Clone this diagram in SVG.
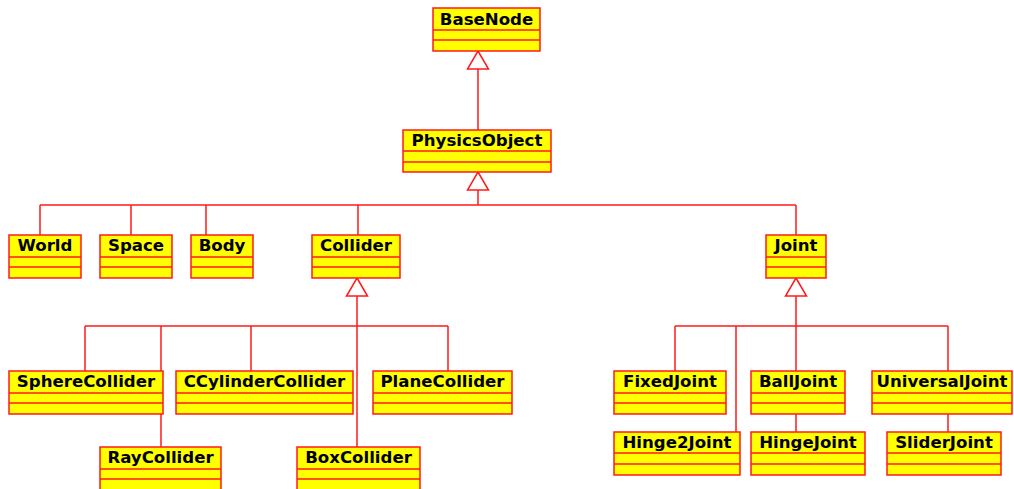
<svg xmlns="http://www.w3.org/2000/svg" width="1014" height="489" viewBox="0 0 1014 489">
<style>
.box{fill:#ffff00;stroke:#ff1a1a;stroke-width:1.5}
.sep{stroke:#ff1a1a;stroke-width:1.5}
.t{font-family:"DejaVu Sans",sans-serif;font-weight:bold;font-size:16.6px;fill:#000;text-anchor:middle}
.c{fill:none;stroke:#ff1a1a;stroke-width:1.5}
.tri{fill:#fff;stroke:#ff1a1a;stroke-width:1.5}
</style>
<rect width="1014" height="489" fill="#fff"/>
<g id="connectors">
<path class="c" d="M478,69V130"/>
<path class="c" d="M478,190V205M40,205H796M40,205V235M131,205V235M206,205V235M358,205V235M796,205V235"/>
<path class="c" d="M357,296V447M85,326H448M85,326V371M161,326V447M251,326V371M448,326V371"/>
<path class="c" d="M796,296V432M675,326H948M675,326V371M736,326V432M948,326V432"/>
<path class="tri" d="M478,51L488.5,69H467.5Z"/>
<path class="tri" d="M478,172L488.5,190H467.5Z"/>
<path class="tri" d="M357,278L367.5,296H346.5Z"/>
<path class="tri" d="M796,278L806.5,296H785.5Z"/>
</g>
<g id="BaseNode"><rect class="box" x="433" y="8" width="107" height="43"/><path class="sep" d="M433,30H540M433,40H540"/><text class="t" x="486.5" y="25">BaseNode</text></g>
<g id="PhysicsObject"><rect class="box" x="403" y="130" width="148" height="42"/><path class="sep" d="M403,151H551M403,162H551"/><text class="t" x="477" y="146">PhysicsObject</text></g>
<g id="World"><rect class="box" x="9" y="235" width="72" height="43"/><path class="sep" d="M9,257H81M9,267H81"/><text class="t" x="45" y="251">World</text></g>
<g id="Space"><rect class="box" x="100" y="235" width="72" height="43"/><path class="sep" d="M100,257H172M100,267H172"/><text class="t" x="136" y="251">Space</text></g>
<g id="Body"><rect class="box" x="191" y="235" width="62" height="43"/><path class="sep" d="M191,257H253M191,267H253"/><text class="t" x="222" y="251">Body</text></g>
<g id="Collider"><rect class="box" x="312" y="235" width="88" height="43"/><path class="sep" d="M312,257H400M312,267H400"/><text class="t" x="356" y="251">Collider</text></g>
<g id="Joint"><rect class="box" x="766" y="235" width="60" height="43"/><path class="sep" d="M766,257H826M766,267H826"/><text class="t" x="796" y="251">Joint</text></g>
<g id="SphereCollider"><rect class="box" x="9" y="371" width="154" height="43"/><path class="sep" d="M9,393H163M9,403H163"/><text class="t" x="86" y="387">SphereCollider</text></g>
<g id="CCylinderCollider"><rect class="box" x="176" y="371" width="177" height="43"/><path class="sep" d="M176,393H353M176,403H353"/><text class="t" x="264.5" y="387">CCylinderCollider</text></g>
<g id="PlaneCollider"><rect class="box" x="373" y="371" width="139" height="43"/><path class="sep" d="M373,393H512M373,403H512"/><text class="t" x="442.5" y="387">PlaneCollider</text></g>
<g id="RayCollider"><rect class="box" x="100" y="447" width="121" height="43"/><path class="sep" d="M100,469H221M100,479H221"/><text class="t" x="160.5" y="463">RayCollider</text></g>
<g id="BoxCollider"><rect class="box" x="297" y="447" width="123" height="43"/><path class="sep" d="M297,469H420M297,479H420"/><text class="t" x="358.5" y="463">BoxCollider</text></g>
<g id="FixedJoint"><rect class="box" x="614" y="371" width="112" height="43"/><path class="sep" d="M614,393H726M614,403H726"/><text class="t" x="670" y="387">FixedJoint</text></g>
<g id="BallJoint"><rect class="box" x="751" y="371" width="94" height="43"/><path class="sep" d="M751,393H845M751,403H845"/><text class="t" x="798" y="387">BallJoint</text></g>
<g id="UniversalJoint"><rect class="box" x="872" y="371" width="140" height="43"/><path class="sep" d="M872,393H1012M872,403H1012"/><text class="t" x="942" y="387">UniversalJoint</text></g>
<g id="Hinge2Joint"><rect class="box" x="614" y="432" width="126" height="43"/><path class="sep" d="M614,453H740M614,464H740"/><text class="t" x="677" y="448">Hinge2Joint</text></g>
<g id="HingeJoint"><rect class="box" x="751" y="432" width="114" height="43"/><path class="sep" d="M751,453H865M751,464H865"/><text class="t" x="808" y="448">HingeJoint</text></g>
<g id="SliderJoint"><rect class="box" x="887" y="432" width="114" height="43"/><path class="sep" d="M887,453H1001M887,464H1001"/><text class="t" x="944" y="448">SliderJoint</text></g>
</svg>
